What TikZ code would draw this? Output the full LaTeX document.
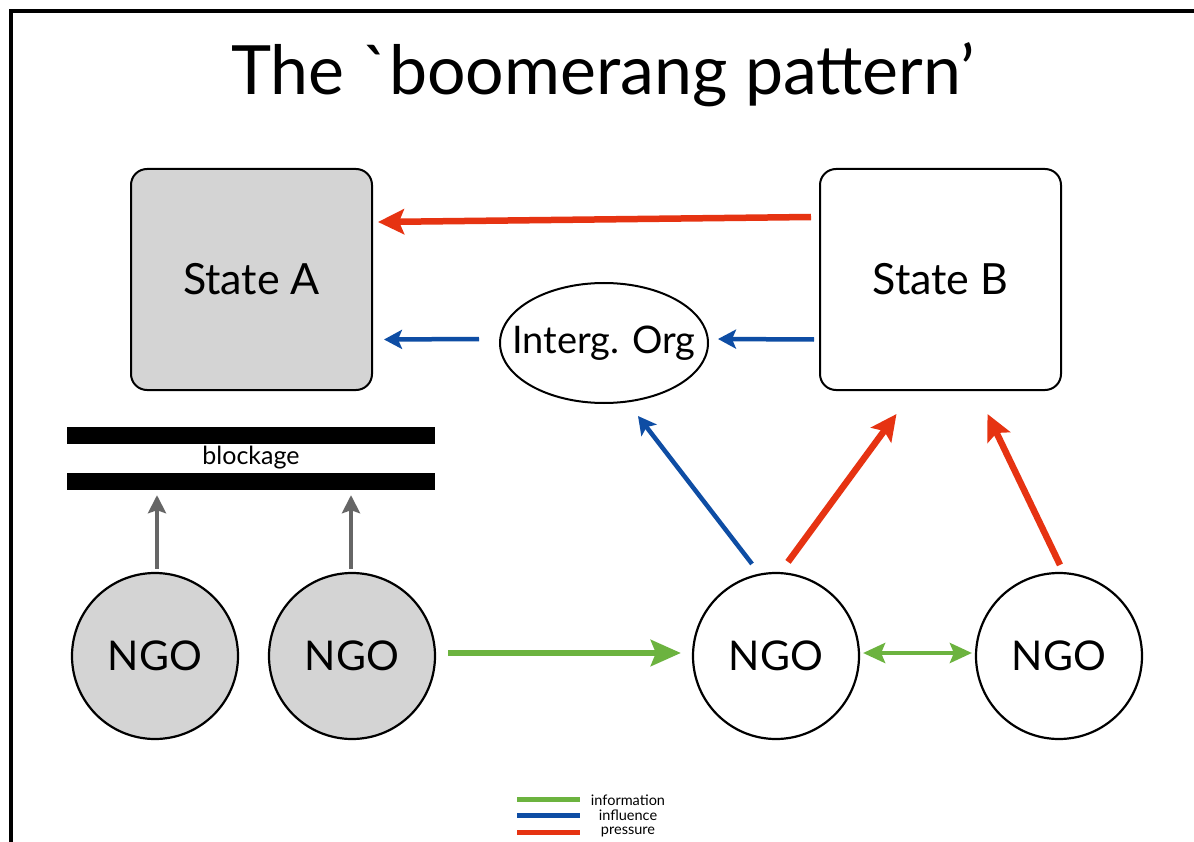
\documentclass[tikz,border=0pt]{standalone}
\usepackage{fontspec}
\setmainfont{Lato}
\usetikzlibrary{arrows.meta,shapes.geometric,calc}
\definecolor{cred}{HTML}{E63312}
\definecolor{cblue}{HTML}{0E4DA4}
\definecolor{cgreen}{HTML}{6CB33F}
\definecolor{cgray}{HTML}{666666}
\definecolor{cfill}{HTML}{D4D4D4}
\begin{document}
\begin{tikzpicture}[x=1pt,y=-1pt,
  statebox/.style={draw, line width=2pt, rounded corners=16pt, minimum width=241pt, minimum height=221pt, inner sep=0pt, font=\fontsize{43}{50}\selectfont},
  ngo/.style={draw, circle, line width=2.2pt, minimum size=166pt, inner sep=0pt, font=\fontsize{41}{48}\selectfont},
  org/.style={draw, ellipse, line width=2pt, minimum width=208pt, minimum height=120pt, inner xsep=-22pt, inner ysep=0pt, font=\fontsize{38}{44}\selectfont},
  bar/.style={fill=black, minimum width=368pt, minimum height=17pt, inner sep=0pt},
  pressure/.style={draw=cred, line width=6.5pt, -{Stealth[length=26pt, width=25pt, inset=5pt]}},
  influence/.style={draw=cblue, line width=4.5pt, -{Stealth[length=18pt, width=19pt, inset=4pt]}},
  information/.style={draw=cgreen, line width=6pt, -{Stealth[length=30pt, width=26pt, inset=5pt]}},
  infosmall/.style={draw=cgreen, line width=4pt, {Stealth[length=22pt, width=20pt, inset=4pt]}-{Stealth[length=22pt, width=20pt, inset=4pt]}},
  blocked/.style={draw=cgray, line width=4pt, -{Stealth[length=18pt, width=18pt, inset=3pt]}},
  legline/.style={line width=5pt},
  legtext/.style={font=\fontsize{14.5}{16}\selectfont, inner sep=0pt}
]
\useasboundingbox (0,0) rectangle (1194,842);
\fill[white] (0,0) rectangle (1194,842);
% frame
\draw[line width=3.5pt] (11,842) -- (11,11) -- (1194,11);
% title
\node[anchor=base, inner sep=0pt, font=\fontsize{68}{80}\selectfont] (title) at (603,95) {The \textasciigrave boomerang pattern'};
% states
\node[statebox, fill=cfill] (A) at (251.5,279.5) {State A};
\node[statebox, fill=white] (B) at (940.5,279.5) {State B};
% intergovernmental organisation
\node[org] (IO) at (604,343) {Interg. Org};
% blockage
\node[bar] (bartop) at (251,435) {};
\node[bar] (barbot) at (251,481.5) {};
\node[font=\fontsize{25}{28}\selectfont, inner sep=0pt] (blk) at (251,458) {blockage};
% NGOs
\node[ngo, fill=cfill] (n1) at (155,656) {NGO};
\node[ngo, fill=cfill] (n2) at (352,656) {NGO};
\node[ngo, fill=white] (n3) at (776,656) {NGO};
\node[ngo, fill=white] (n4) at (1059,656) {NGO};
% connectors
\draw[pressure] ($(B.west)+(-8,-62.5)$) -- ($(A.east)+(5,-57.5)$);
\draw[influence] ($(IO.west)+(-20,-4)$) -- ($(A.east)+(11,60)$);
\draw[influence] ($(B.west)+(-5,60)$) -- ($(IO.east)+(9,-4)$);
\draw[blocked] ($(n1.north)+(2,-3)$) -- ($(barbot.south)+(-94,5)$);
\draw[blocked] ($(n2.north)+(-1,-3)$) -- ($(barbot.south)+(100,5)$);
\draw[information] ($(n2.east)+(12,-3)$) -- ($(n3.west)+(-11,-3)$);
\draw[infosmall] ($(n3.east)+(3,-3)$) -- ($(n4.west)+(-3,-3)$);
\draw[influence] ($(n3.north)+(-24,-8)$) -- ($(IO.south)+(34,12)$);
\draw[pressure] ($(n3.north)+(12,-10)$) -- ($(B.south)+(-44,23)$);
\draw[pressure] ($(n4.north)+(1,-7)$) -- ($(B.south)+(47,23)$);
% legend
\coordinate (lg1) at (517,799);
\coordinate (lg2) at (517,815);
\coordinate (lg3) at (517,832);
\draw[legline, cgreen] (lg1) -- ++(63,0);
\draw[legline, cblue] (lg2) -- ++(63,0);
\draw[legline, cred] (lg3) -- ++(63,0);
\node[legtext] (t1) at (628,800) {information};
\node[legtext] (t2) at (628,815) {influence};
\node[legtext] (t3) at (628,832) {pressure};
\end{tikzpicture}
\end{document}
